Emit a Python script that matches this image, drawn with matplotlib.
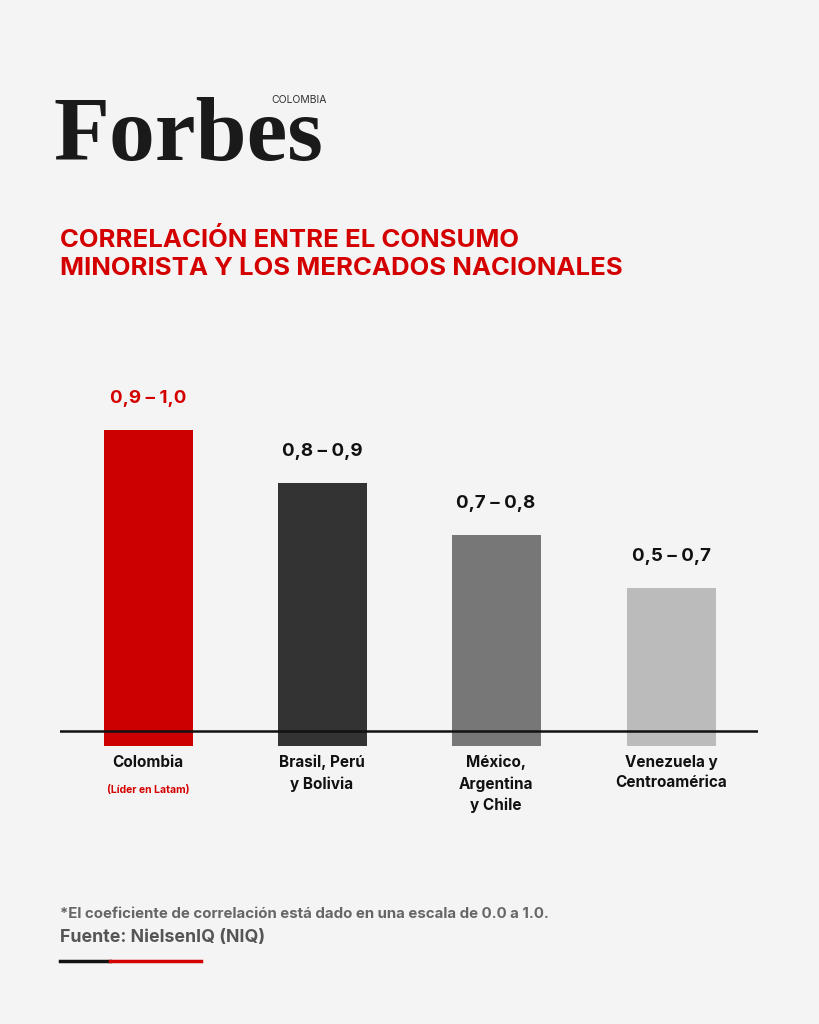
import matplotlib
matplotlib.use("Agg")
import matplotlib.pyplot as plt

categories = ["Colombia", "Brasil, Perú\ny Bolivia", "México,\nArgentina\ny Chile", "Venezuela y\nCentroamérica"]
range_labels = ["0,9 – 1,0", "0,8 – 0,9", "0,7 – 0,8", "0,5 – 0,7"]
values = [0.95, 0.85, 0.75, 0.65]
colors = ["#cc0000", "#333333", "#777777", "#bbbbbb"]

W, H = 819, 1024
fig = plt.figure(figsize=(W/100, H/100), dpi=100)
fig.patch.set_facecolor("#f4f4f4")
F = "Inter"

def fx(x): return x / W
def fy(y): return 1 - y / H

# Logo
fig.text(fx(53), fy(160), "Forbes", family="Liberation Serif", fontsize=66, fontweight="bold", color="#1a1a1a", va="baseline")
fig.text(fx(327), fy(103), "COLOMBIA", family=F, fontsize=7.5, color="#333333", ha="right", va="baseline")

fig.text(fx(60), fy(254), "CORRELACIÓN ENTRE EL CONSUMO\nMINORISTA Y LOS MERCADOS NACIONALES",
         family=F, fontsize=18.5, fontweight="bold", color="#d40000", va="center", linespacing=1.3)

ax = fig.add_axes([fx(60), fy(746), fx(758) - fx(60), (746 - 330) / H])
ax.set_facecolor("none")
base = 0.379
s = 527.0
ybot = base - 15 / s
ax.set_ylim(ybot, ybot + 416 / s)
centers = [148, 322, 496, 671]
xs = [(c - 60) for c in centers]
ax.set_xlim(0, 698)
ax.bar(xs, [v - ybot for v in values], bottom=ybot, width=89, color=colors, zorder=2)
ax.axhline(base, color="#111111", lw=1.8, zorder=3)
for x, v, lab, c in zip(xs, values, range_labels, ["#d40000", "#111111", "#111111", "#111111"]):
    ax.text(x, v + 0.06, lab, ha="center", va="center", family=F, fontsize=13.5, fontweight="bold", color=c)
for x, cat in zip(xs, categories):
    ax.text(x, base - 24 / s, cat, ha="center", va="top", family=F, fontsize=11, fontweight="bold", color="#111111", linespacing=1.45)
ax.text(xs[0], base - 59 / s, "(Líder en Latam)", ha="center", va="center", family=F, fontsize=7.5, fontweight="bold", color="#d40000")
ax.axis("off")

fig.text(fx(60), fy(914), "*El coeficiente de correlación está dado en una escala de 0.0 a 1.0.",
         family=F, fontsize=10.8, fontweight="bold", color="#666666", va="center")
fig.text(fx(60), fy(937), "Fuente: NielsenIQ (NIQ)", family=F, fontsize=12.8, fontweight="bold", color="#555555", va="center")
fig.add_artist(plt.Line2D([fx(60), fx(110)], [fy(961), fy(961)], color="#111111", lw=2.5))
fig.add_artist(plt.Line2D([fx(110), fx(201)], [fy(961), fy(961)], color="#d40000", lw=2.5))

fig.savefig("out.png", dpi=100, facecolor=fig.get_facecolor())
